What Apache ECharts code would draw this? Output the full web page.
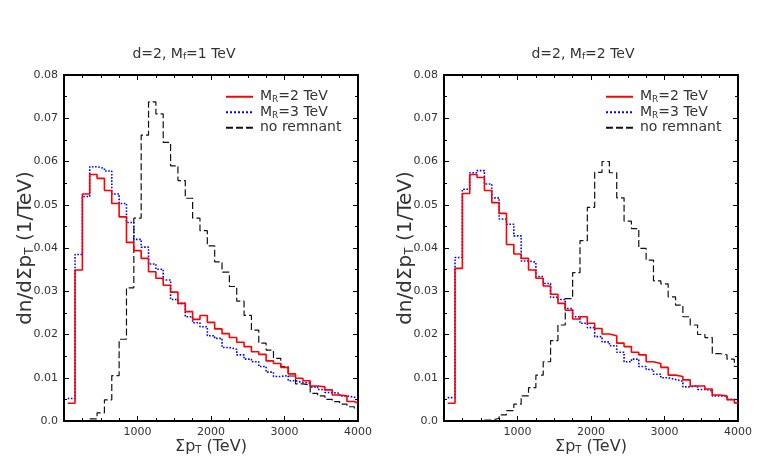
<!DOCTYPE html>
<html>
<head>
<meta charset="utf-8">
<title>Sum pT distributions</title>
<script src="https://cdn.jsdelivr.net/npm/echarts@6/dist/echarts.min.js"></script>
<style>
  html, body { margin: 0; padding: 0; background: #fff; }
  #main { width: 763px; height: 459px; }
</style>
</head>
<body>
<div id="main"></div>
<script>
// bin edges (TeV), last entry closes the final bin
const binEdges = [50, 150, 250, 350, 450, 550, 650, 750, 850, 950,
  1050, 1150, 1250, 1350, 1450, 1550, 1650, 1750, 1850, 1950,
  2050, 2150, 2250, 2350, 2450, 2550, 2650, 2750, 2850, 2950,
  3050, 3150, 3250, 3350, 3450, 3550, 3650, 3750, 3850, 3950, 4000]

const xTicks = [1000, 2000, 3000, 4000]
const yTicks = ['0.0', '0.01', '0.02', '0.03', '0.04', '0.05', '0.06', '0.07', '0.08']

// d=2, Mf=1 TeV
const leftRed = [0.0041, 0.0349, 0.0525, 0.0570, 0.0561, 0.0533, 0.0503, 0.0472, 0.0413, 0.0394,
  0.0376, 0.0345, 0.0330, 0.0314, 0.0298, 0.0272, 0.0253, 0.0235, 0.0244, 0.0228,
  0.0213, 0.0202, 0.0193, 0.0182, 0.0172, 0.0160, 0.0154, 0.0139, 0.0133, 0.0124,
  0.0109, 0.0099, 0.0093, 0.0081, 0.0079, 0.0072, 0.0060, 0.0058, 0.0045, 0.0041]
const leftBlue = [0.0052, 0.0385, 0.0519, 0.0588, 0.0584, 0.0578, 0.0525, 0.0503, 0.0459, 0.0420,
  0.0402, 0.0363, 0.0351, 0.0326, 0.0281, 0.0272, 0.0241, 0.0227, 0.0218, 0.0197,
  0.0191, 0.0170, 0.0166, 0.0153, 0.0143, 0.0137, 0.0126, 0.0113, 0.0103, 0.0105,
  0.0093, 0.0089, 0.0088, 0.0079, 0.0073, 0.0066, 0.0064, 0.0058, 0.0055, 0.0055]
const leftBlack = [null, null, null, 0.0005, 0.0019, 0.0049, 0.0105, 0.0189, 0.0308, 0.0469,
  0.0661, 0.0738, 0.0710, 0.0644, 0.0590, 0.0556, 0.0515, 0.0469, 0.0440, 0.0405,
  0.0368, 0.0344, 0.0311, 0.0277, 0.0244, 0.0210, 0.0180, 0.0164, 0.0145, 0.0126,
  0.0104, 0.0086, 0.0083, 0.0064, 0.0058, 0.0050, 0.0045, 0.0039, 0.0033, 0.0028]

// d=2, Mf=2 TeV
const rightRed = [0.0041, 0.0353, 0.0526, 0.0570, 0.0563, 0.0533, 0.0505, 0.0480, 0.0408, 0.0386,
  0.0376, 0.0349, 0.0330, 0.0312, 0.0293, 0.0272, 0.0256, 0.0236, 0.0241, 0.0226,
  0.0214, 0.0201, 0.0197, 0.0180, 0.0172, 0.0159, 0.0153, 0.0137, 0.0133, 0.0124,
  0.0106, 0.0103, 0.0095, 0.0081, 0.0081, 0.0074, 0.0060, 0.0058, 0.0049, 0.0042]
const rightBlue = [0.0054, 0.0378, 0.0536, 0.0574, 0.0579, 0.0548, 0.0516, 0.0467, 0.0455, 0.0428,
  0.0370, 0.0367, 0.0334, 0.0318, 0.0286, 0.0281, 0.0260, 0.0241, 0.0226, 0.0216,
  0.0195, 0.0183, 0.0174, 0.0159, 0.0137, 0.0143, 0.0126, 0.0119, 0.0108, 0.0100,
  0.0096, 0.0092, 0.0079, 0.0081, 0.0073, 0.0070, 0.0058, 0.0058, 0.0050, 0.0049]
const rightBlack = [null, null, null, null, null, 0.0002, 0.0006, 0.0014, 0.0024, 0.0039,
  0.0058, 0.0077, 0.0106, 0.0137, 0.0186, 0.0222, 0.0283, 0.0343, 0.0417, 0.0494,
  0.0575, 0.0600, 0.0574, 0.0516, 0.0462, 0.0445, 0.0399, 0.0372, 0.0324, 0.0317,
  0.0287, 0.0268, 0.0241, 0.0222, 0.0200, 0.0193, 0.0156, 0.0153, 0.0143, 0.0126]

const seriesNames = ['M{sub|R}=2 TeV', 'M{sub|R}=3 TeV', 'no remnant']
const panelTitles = ['d=2, M{sub|f}=1 TeV', 'd=2, M{sub|f}=2 TeV']

const FONT = '"DejaVu Sans", sans-serif'
const TXT = '#333'
const makeRich = (size, drop) => ({
  sub: { fontSize: size, fontFamily: FONT, color: TXT, verticalAlign: 'bottom', padding: [drop, 0, 0, 0] }
})

// pair each left bin edge with its value, repeat last value at the closing edge
const toSteps = (values) =>
  binEdges.map((e, i) => {
    const v = values[Math.min(i, values.length - 1)]
    return [e, v == null ? '-' : v]
  })

const grids = [
  { left: 64, top: 75, width: 294, height: 346, containLabel: false, outerBoundsMode: 'none' },
  { left: 444, top: 75, width: 294, height: 346, containLabel: false, outerBoundsMode: 'none' }
]
const titleCenters = [179, 578]
const legendLefts = [225, 605]

// negative length turns the ticks into the plot area
const tickStyle = { inside: false, length: -5, lineStyle: { color: '#000' } }
const minorStyle = { show: true, length: -3, lineStyle: { color: '#000' } }

const xAxes = []
const yAxes = []
grids.forEach((g, i) => {
  const common = {
    gridIndex: i,
    type: 'value',
    axisLine: { show: true, onZero: false, lineStyle: { color: '#000', width: 2 } },
    splitLine: { show: false }
  }
  xAxes.push(Object.assign({}, common, {
    min: 0, max: 4000, interval: 1000,
    axisTick: tickStyle,
    minorTick: Object.assign({ splitNumber: 4 }, minorStyle),
    axisLabel: {
      color: TXT, fontSize: 11, fontFamily: FONT, margin: 6,
      formatter: (v) => (xTicks.indexOf(v) >= 0 ? String(v) : '')
    },
    name: 'Σp{sub|T} (TeV)',
    nameLocation: 'middle',
    nameGap: 17,
    nameMoveOverlap: false,
    nameTextStyle: { color: TXT, fontSize: 16, fontFamily: FONT, rich: makeRich(10, 7) }
  }))
  xAxes.push(Object.assign({}, common, {
    position: 'top', min: 0, max: 4000, interval: 1000,
    axisTick: tickStyle,
    minorTick: Object.assign({ splitNumber: 4 }, minorStyle),
    axisLabel: { show: false }
  }))
  yAxes.push(Object.assign({}, common, {
    min: 0, max: 0.08, interval: 0.01,
    axisTick: tickStyle,
    minorTick: Object.assign({ splitNumber: 2 }, minorStyle),
    axisLabel: {
      color: TXT, fontSize: 11, fontFamily: FONT, margin: 6,
      formatter: (v) => yTicks[Math.round(v * 100)]
    },
    name: 'dn/dΣp{sub|T} (1/TeV)',
    nameLocation: 'middle',
    nameGap: 28,
    nameMoveOverlap: false,
    nameTextStyle: { color: TXT, fontSize: 20, fontFamily: FONT, rich: makeRich(12, 8) }
  }))
  yAxes.push(Object.assign({}, common, {
    position: 'right', min: 0, max: 0.08, interval: 0.01,
    axisTick: tickStyle,
    minorTick: Object.assign({ splitNumber: 2 }, minorStyle),
    axisLabel: { show: false }
  }))
})

const styles = [
  { color: '#ff0000', width: 1.6, type: 'solid' },
  { color: '#0000ff', width: 1.6, type: 'dotted' },
  { color: '#111111', width: 1.2, type: [7, 3] }
]

const panels = [
  [leftRed, leftBlue, leftBlack],
  [rightRed, rightBlue, rightBlack]
]

const series = []
panels.forEach((sets, p) => {
  sets.forEach((vals, k) => {
    series.push({
      name: seriesNames[k],
      type: 'line',
      step: 'end',
      xAxisIndex: p * 2,
      yAxisIndex: p * 2,
      symbol: 'none',
      silent: true,
      data: toSteps(vals),
      z: 3 - k,
      lineStyle: styles[k],
      itemStyle: { color: styles[k].color }
    })
  })
})

const legendFor = (left) => ({
  show: true,
  left: left,
  top: 89,
  padding: 0,
  orient: 'vertical',
  itemWidth: 27,
  itemHeight: 10,
  itemGap: 0,
  data: seriesNames,
  selectedMode: false,
  itemStyle: { color: 'transparent', borderWidth: 0 },
  textStyle: {
    color: TXT, fontSize: 14, fontFamily: FONT, lineHeight: 15.5,
    padding: [0, 0, 0, 2], rich: makeRich(9, 5)
  }
})

const option = {
  animation: false,
  backgroundColor: '#fff',
  title: panelTitles.map((t, i) => ({
    text: t,
    left: titleCenters[i],
    textAlign: 'center',
    top: 42,
    textStyle: { color: TXT, fontSize: 14, fontWeight: 'normal', fontFamily: FONT, rich: makeRich(9, 5) }
  })),
  legend: legendLefts.map(legendFor),
  grid: grids,
  xAxis: xAxes,
  yAxis: yAxes,
  series: series
}

const myChart = echarts.init(document.getElementById('main'), null, { renderer: 'canvas' })
myChart.setOption(option)
</script>
</body>
</html>
